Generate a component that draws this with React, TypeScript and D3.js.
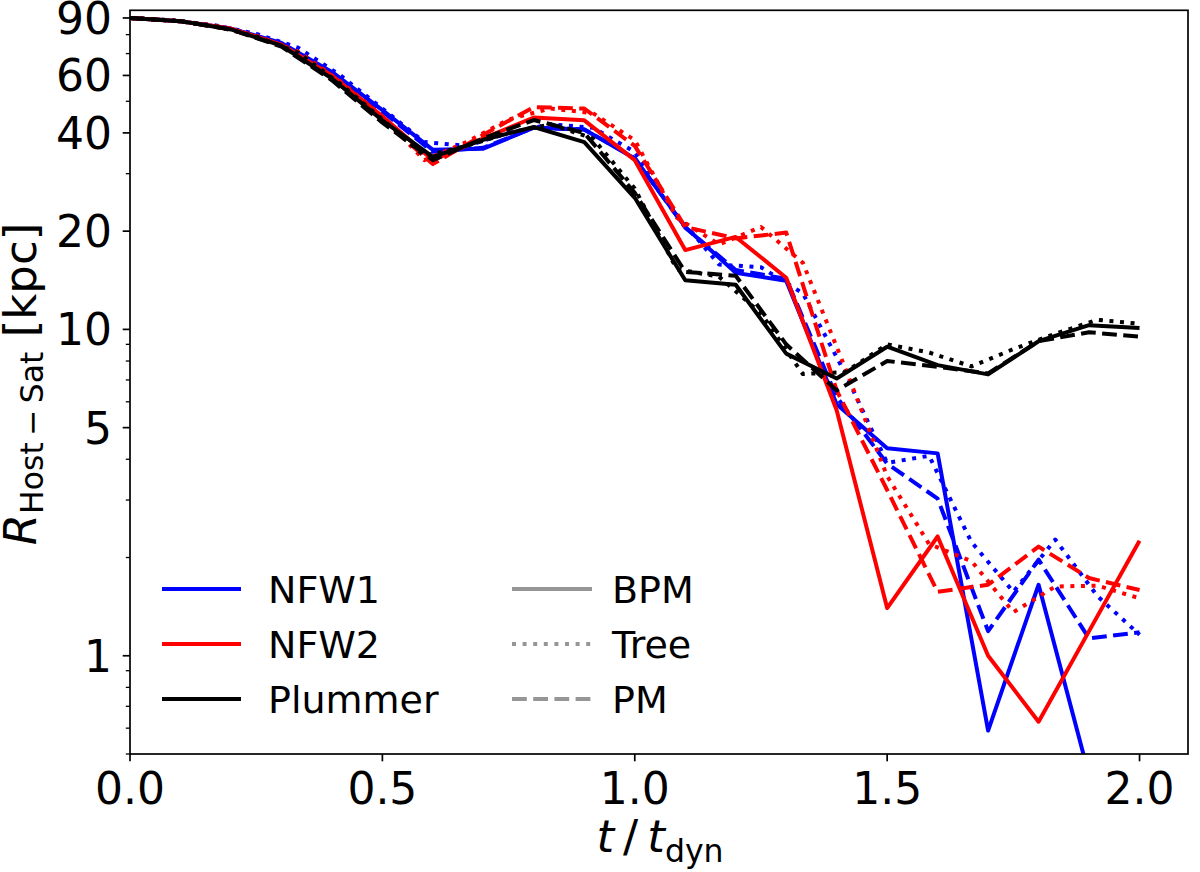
import React from "react";
import * as d3 from "d3";

// output times: BPM and PM every 0.1 t_dyn, Tree every 1/12 t_dyn
const tGrid = [0, 0.1, 0.2, 0.3, 0.4, 0.5, 0.6, 0.7, 0.8, 0.9, 1.0, 1.1, 1.2, 1.3, 1.4, 1.5, 1.6, 1.7, 1.8, 1.9, 2.0];
const tTree = [0, 0.083, 0.167, 0.25, 0.333, 0.417, 0.5, 0.583, 0.667, 0.75, 0.833, 0.917, 1.0, 1.083, 1.167, 1.25, 1.333, 1.417, 1.5, 1.583, 1.667, 1.75, 1.833, 1.917, 2.0];

const nfw1Bpm = [90, 88, 83.5, 75.5, 61.5, 47, 35.5, 35.8, 41.5, 41, 33.4, 20.6, 14.9, 14.1, 5.9, 4.32, 4.17, 0.59, 1.65, 0.43, 0.4];
const nfw1Pm = [90, 88, 83.5, 75, 61, 46.5, 35, 36, 41.5, 41, 33.5, 20.5, 15.2, 14.3, 6.2, 3.88, 3.03, 1.19, 1.97, 1.13, 1.18];
const nfw1Tree = [90, 88.5, 85.5, 80.5, 73, 60, 47.5, 37.5, 36.5, 40, 42.5, 41.5, 35, 22.5, 15.8, 15.5, 12.9, 7.33, 3.9, 4.1, 2.23, 1.57, 2.27, 1.52, 1.16];

const nfw2Bpm = [90, 88, 83.5, 74.5, 60, 45, 33, 38.5, 44.6, 43.7, 33.0, 17.5, 19.2, 14.4, 5.65, 1.4, 2.32, 1.0, 0.628, 1.19, 2.25];
const nfw2Pm = [90, 88, 83, 74, 59, 44, 32.1, 39.5, 48, 47.5, 36.5, 20.6, 19.0, 19.8, 6.5, 3.22, 1.57, 1.65, 2.16, 1.73, 1.59];
const nfw2Tree = [90, 88.5, 85.3, 79.5, 71, 57.5, 45, 33, 37.5, 44, 47.5, 46, 38, 22, 18.2, 20.6, 16, 7.6, 3.55, 2.2, 1.95, 1.36, 1.63, 1.64, 1.5];

const plumBpm = [90, 88, 83, 74, 58.7, 43.7, 33.8, 38.1, 41.7, 37.5, 25.3, 14.15, 13.7, 8.43, 7.07, 8.85, 7.77, 7.28, 9.2, 10.3, 10.1];
const plumPm = [90, 88, 83, 73.5, 58, 43, 33, 38.5, 43.8, 40, 26.2, 15.0, 14.6, 9.0, 6.5, 8.0, 7.68, 7.33, 9.2, 9.8, 9.5];
const plumTree = [90, 88.5, 85, 79, 70.5, 56.5, 44, 34, 36.5, 40, 42.5, 38.5, 27, 15.3, 14.5, 11.2, 7.3, 7.4, 9.0, 8.5, 7.7, 8.7, 9.7, 10.7, 10.4];

const models = ["NFW1", "NFW2", "Plummer"];
const modelColors = ["#0000ff", "#ff0000", "#000000"];
const methods = ["BPM", "Tree", "PM"];

const xTicks = [0, 0.5, 1.0, 1.5, 2.0];
const yMajor = [1, 5, 10, 20, 40, 60, 90];
const yMinor = [0.5, 0.6, 0.7, 0.8, 0.9, 2, 3, 4, 6, 7, 8, 9, 30, 50, 70, 80];

const LW = 4;
const dashFor: Record<string, string | undefined> = {
  BPM: undefined,
  Tree: `${LW * 1} ${LW * 1.65}`,
  PM: `${LW * 3.7} ${LW * 1.6}`,
};

const W = 1200;
const H = 872;
const left = 130;
const right = 1188;
const top = 10.3;
const bottom = 754;
const font = "'DejaVu Sans', sans-serif";

const App: React.FC = () => {
  const x = d3.scaleLinear().domain([0, 2.096]).range([left, right]);
  const y = d3.scaleLog().domain([0.5, 95]).range([bottom, top]);

  const table = [
    [nfw1Bpm, nfw1Tree, nfw1Pm],
    [nfw2Bpm, nfw2Tree, nfw2Pm],
    [plumBpm, plumTree, plumPm],
  ];

  const line = (ts: number[], vs: number[]) =>
    d3
      .line<number>()
      .x((_, i) => x(ts[i]))
      .y((v) => y(v))(vs) as string;

  const series: { key: string; d: string; color: string; dash?: string }[] = [];
  models.forEach((m, mi) => {
    methods.forEach((meth, ki) => {
      const ts = meth === "Tree" ? tTree : tGrid;
      series.push({
        key: m + meth,
        d: line(ts, table[mi][ki]),
        color: modelColors[mi],
        dash: dashFor[meth],
      });
    });
  });

  return (
    <svg
      width={W}
      height={H}
      style={{ position: "absolute", left: 0, top: 0, background: "#fff" }}
      fontFamily={font}
    >
      <defs>
        <clipPath id="plotArea">
          <rect x={left} y={top} width={right - left} height={bottom - top} />
        </clipPath>
      </defs>

      <g clipPath="url(#plotArea)">
        {series.map((s) => (
          <path
            key={s.key}
            d={s.d}
            fill="none"
            stroke={s.color}
            strokeWidth={LW}
            strokeDasharray={s.dash}
            strokeLinejoin="round"
          />
        ))}
      </g>

      {/* frame */}
      <rect
        x={left}
        y={top}
        width={right - left}
        height={bottom - top}
        fill="none"
        stroke="#000"
        strokeWidth={1.7}
      />

      {/* x axis */}
      {xTicks.map((t) => (
        <g key={"x" + t}>
          <line x1={x(t)} x2={x(t)} y1={bottom} y2={bottom + 7.3} stroke="#000" strokeWidth={1.7} />
          <text x={x(t)} y={804} fontSize={44} textAnchor="middle">
            {t.toFixed(1)}
          </text>
        </g>
      ))}

      {/* y axis */}
      {yMinor.map((v) => (
        <line key={"ym" + v} x1={left - 4.2} x2={left} y1={y(v)} y2={y(v)} stroke="#000" strokeWidth={1.3} />
      ))}
      {yMajor.map((v) => (
        <g key={"y" + v}>
          <line x1={left - 7.3} x2={left} y1={y(v)} y2={y(v)} stroke="#000" strokeWidth={1.7} />
          <text x={112} y={y(v) + 16} fontSize={44} textAnchor="end">
            {v}
          </text>
        </g>
      ))}

      {/* axis labels */}
      <text x={660} y={852} fontSize={45} textAnchor="middle">
        <tspan fontStyle="italic">t</tspan>
        <tspan>{"\u2009/\u2009"}</tspan>
        <tspan fontStyle="italic">t</tspan>
        <tspan fontSize={31.5} dy={10}>dyn</tspan>
      </text>
      <text transform="translate(36,384) rotate(-90)" fontSize={45} textAnchor="middle">
        <tspan fontStyle="italic">R</tspan>
        <tspan fontSize={31.5} dy={7}>{"Host\u2009\u2212\u2009Sat"}</tspan>
        <tspan dy={-7}>{"\u00a0[kpc]"}</tspan>
      </text>

      {/* legend */}
      {models.map((m, i) => {
        const ly = 589 + i * 55;
        return (
          <g key={"lg" + m}>
            <line x1={162} x2={241} y1={ly} y2={ly} stroke={modelColors[i]} strokeWidth={LW} />
            <text x={268} y={ly + 13.5} fontSize={38}>
              {m}
            </text>
          </g>
        );
      })}
      {methods.map((m, i) => {
        const ly = 589 + i * 55;
        return (
          <g key={"lm" + m}>
            <line
              x1={512}
              x2={592}
              y1={ly}
              y2={ly}
              stroke="#969696"
              strokeWidth={LW}
              strokeDasharray={dashFor[m]}
            />
            <text x={612} y={ly + 13.5} fontSize={38}>
              {m}
            </text>
          </g>
        );
      })}
    </svg>
  );
};

export default App;
